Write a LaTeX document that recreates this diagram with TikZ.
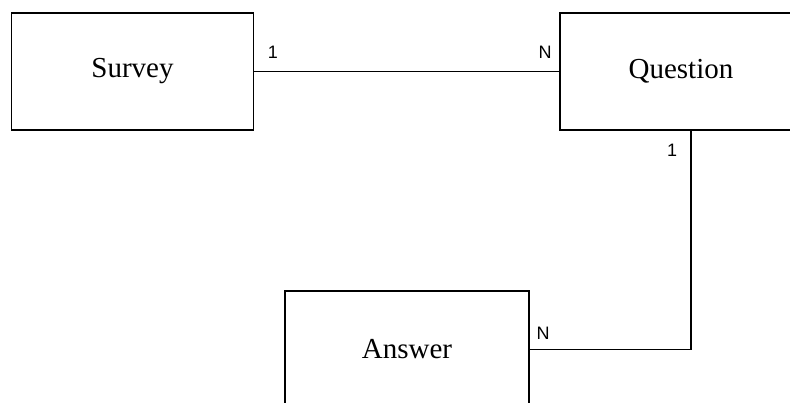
\documentclass[tikz,border=0pt]{standalone}
\usepackage{fontspec}
\setmainfont{Liberation Serif}
\newfontfamily\cardfont{Liberation Sans}
\usetikzlibrary{positioning}

\tikzset{
	entity/.style={draw, fill=white, minimum width=242pt, minimum height=117pt,
		inner sep=0pt, font=\fontsize{29}{34}\selectfont},
	card/.style={font=\cardfont\fontsize{18}{20}\selectfont, inner sep=1pt},
}

\begin{document}
\begin{tikzpicture}[x=1pt, y=-1pt, line width=1.8pt]

		% Page frame, the boxes run past it on the right and bottom
		\clip (0,0) rectangle (790,403);
		\fill[white] (0,0) rectangle (790,403);

		% Draw the entities
		\node[entity] (survey) at (132.5, 71.5) {Survey};
		\node[entity] (question) at (681, 71.5) {Question};
		\node[entity, minimum width=244pt] (answer) at (407, 349.5) {Answer};

		% Draw the relation between survey and question
		\draw (survey.east) -- (question.west);
		\node[card] (s1) at (273, 52) {1};
		\node[card] (qn) at (545, 52) {N};

		% Draw the relation between question and answer
		\coordinate (bend) at (691, 349.5);
		\draw (question.south -| bend) -- (bend) -- (answer.east);
		\node[card] (q1) at (672, 150) {1};
		\node[card] (an) at (543, 333) {N};

	\end{tikzpicture}
\end{document}
